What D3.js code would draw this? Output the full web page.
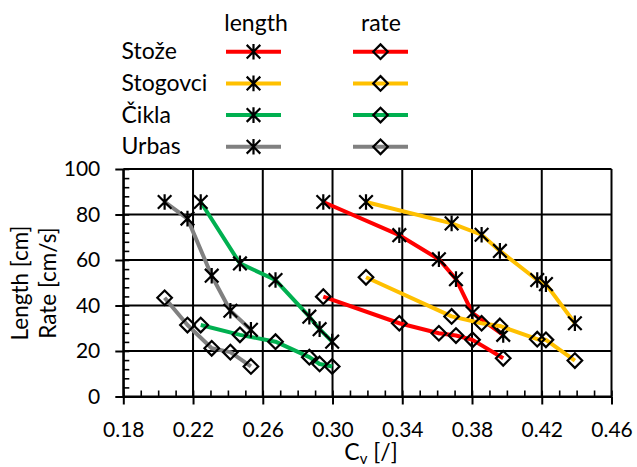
<!DOCTYPE html>
<html><head><meta charset="utf-8">
<script src="https://cdn.jsdelivr.net/npm/d3@7/dist/d3.min.js"></script>
<style>
body{margin:0;background:#fff}
svg{display:block}
text{font-family:Lato,"Open Sans",sans-serif;fill:#000}
</style>
</head><body>
<svg id="chart" width="637" height="467"></svg>
<script>
// ---------------- data ----------------
const sites = ["Stože", "Stogovci", "Čikla", "Urbas"];
const seriesKinds = ["length", "rate"];

const cvStoze    = [0.2947, 0.3383, 0.3610, 0.3708, 0.3803, 0.3979];
const lenStoze   = [85.5, 70.9, 60.3, 51.6, 36.7, 27.1];
const rateStoze  = [43.9, 32.2, 27.8, 26.8, 24.9, 16.8];

const cvStogovci   = [0.3192, 0.3683, 0.3855, 0.3960, 0.4174, 0.4224, 0.4390];
const lenStogovci  = [85.5, 76.1, 71.1, 64.0, 51.2, 49.4, 32.2];
const rateStogovci = [52.4, 35.2, 32.2, 31.0, 25.2, 24.9, 15.8];

const cvCikla   = [0.2244, 0.2469, 0.2673, 0.2867, 0.2926, 0.2998];
const lenCikla  = [85.5, 58.5, 51.2, 35.1, 29.6, 24.1];
const rateCikla = [31.4, 27.1, 24.1, 17.3, 14.3, 13.2];

const cvUrbas   = [0.2037, 0.2168, 0.2307, 0.2414, 0.2532];
const lenUrbas  = [85.5, 78.2, 53.1, 37.7, 29.3];
const rateUrbas = [43.4, 31.4, 21.2, 19.5, 13.2];

const xTicks = [0.18, 0.22, 0.26, 0.30, 0.34, 0.38, 0.42, 0.46];
const yTicks = [0, 20, 40, 60, 80, 100];

// ---------------- styles ----------------
const siteColors = ["#ff0000", "#ffc000", "#00b050", "#808080"];

const cvs = [cvStoze, cvStogovci, cvCikla, cvUrbas];
const lens = [lenStoze, lenStogovci, lenCikla, lenUrbas];
const rates = [rateStoze, rateStogovci, rateCikla, rateUrbas];

const svg = d3.select("#chart");
const x = d3.scaleLinear().domain([0.18, 0.46]).range([123.3, 611.5]);
const y = d3.scaleLinear().domain([0, 100]).range([396.5, 169]);

// grid
const grid = svg.append("g").attr("stroke", "#000").attr("stroke-width", 2);
grid.selectAll("line.v").data(xTicks).join("line")
  .attr("x1", d => x(d)).attr("x2", d => x(d))
  .attr("y1", y(0)).attr("y2", y(100));
grid.selectAll("line.h").data(yTicks).join("line")
  .attr("x1", x(0.18)).attr("x2", x(0.46))
  .attr("y1", d => y(d)).attr("y2", d => y(d));

// minor ticks
const xMinor = d3.range(0.18, 0.4601, 0.01).map(v => +v.toFixed(2));
const yMinor = d3.range(0, 100.01, 4);
svg.append("g").attr("transform", `translate(0,${y(0)})`)
  .call(d3.axisBottom(x).tickValues(xMinor).tickSize(-6).tickFormat(""))
  .call(g => g.select(".domain").remove())
  .selectAll("line").attr("stroke", "#000").attr("stroke-width", 1.6);
svg.append("g").attr("transform", `translate(${x(0.18)},0)`)
  .call(d3.axisLeft(y).tickValues(yMinor).tickSize(-6).tickFormat(""))
  .call(g => g.select(".domain").remove())
  .selectAll("line").attr("stroke", "#000").attr("stroke-width", 1.6);

// major axes
const xAxis = svg.append("g").attr("transform", `translate(0,${y(0)})`)
  .call(d3.axisBottom(x).tickValues(xTicks).tickSizeInner(8).tickSizeOuter(0)
        .tickPadding(18).tickFormat(d3.format(".2f")));
xAxis.select(".domain").attr("stroke", "#000").attr("stroke-width", 2);
xAxis.selectAll(".tick line").attr("stroke", "#000").attr("stroke-width", 2);
xAxis.selectAll("text").attr("font-size", 21).attr("font-family", "Lato").attr("fill", "#000");

const yAxis = svg.append("g").attr("transform", `translate(${x(0.18)},0)`)
  .call(d3.axisLeft(y).tickValues(yTicks).tickSizeInner(8).tickSizeOuter(0).tickPadding(15));
yAxis.select(".domain").attr("stroke", "#000").attr("stroke-width", 2);
yAxis.selectAll(".tick line").attr("stroke", "#000").attr("stroke-width", 2);
yAxis.selectAll("text").attr("font-size", 21).attr("font-family", "Lato").attr("fill", "#000");

// markers
const starPath = (d, r) => `M${-d},${-d}L${d},${d}M${-d},${d}L${d},${-d}M0,${-r}L0,${r}`;
const diamondPath = r => `M0,${-r}L${r},0L0,${r}L${-r},0Z`;

const line = d3.line().x(d => x(d[0])).y(d => y(d[1]));
const plot = svg.append("g");

sites.forEach((s, i) => {
  const lenPts = cvs[i].map((c, k) => [c, lens[i][k]]);
  const ratePts = cvs[i].map((c, k) => [c, rates[i][k]]);
  [lenPts, ratePts].forEach((pts, j) => {
    plot.append("path").datum(pts).attr("d", line)
      .attr("fill", "none").attr("stroke", siteColors[i]).attr("stroke-width", 4)
      .attr("stroke-linejoin", "round");
    plot.append("g").selectAll("path").data(pts).join("path")
      .attr("transform", d => `translate(${x(d[0])},${y(d[1])})`)
      .attr("d", j === 0 ? starPath(6.8, 7.8) : diamondPath(7.3))
      .attr("fill", "none").attr("stroke", "#000").attr("stroke-width", 2.2);
  });
});

// legend
const leg = svg.append("g");
leg.append("text").attr("x", 256).attr("y", 31).attr("text-anchor", "middle")
  .attr("font-size", 23).text(seriesKinds[0]);
leg.append("text").attr("x", 381).attr("y", 31).attr("text-anchor", "middle")
  .attr("font-size", 23).text(seriesKinds[1]);
sites.forEach((s, i) => {
  const cy = 51.7 + i * 31.7;
  leg.append("text").attr("x", 121.5).attr("y", cy + 7.5).attr("font-size", 23).text(s);
  [[226, 281], [353, 408]].forEach((r, j) => {
    leg.append("line").attr("x1", r[0]).attr("x2", r[1]).attr("y1", cy).attr("y2", cy)
      .attr("stroke", siteColors[i]).attr("stroke-width", 4);
    leg.append("path").attr("transform", `translate(${(r[0] + r[1]) / 2},${cy})`)
      .attr("d", j === 0 ? starPath(6.8, 7.8) : diamondPath(7.3))
      .attr("fill", "none").attr("stroke", "#000").attr("stroke-width", 2.2);
  });
});

// axis titles
const xt = svg.append("text").attr("x", 371).attr("y", 460).attr("text-anchor", "middle")
  .attr("font-size", 23);
xt.append("tspan").text("C");
xt.append("tspan").attr("font-size", 15).attr("dy", 4).text("v");
xt.append("tspan").attr("dy", -4).text(" [/]");

const yt = svg.append("text").attr("transform", "translate(0,283) rotate(-90)")
  .attr("text-anchor", "middle").attr("font-size", 22.5);
yt.append("tspan").attr("x", 0).attr("y", 28).text("Length [cm]");
yt.append("tspan").attr("x", 0).attr("y", 56).text("Rate [cm/s]");
</script>
</body></html>
